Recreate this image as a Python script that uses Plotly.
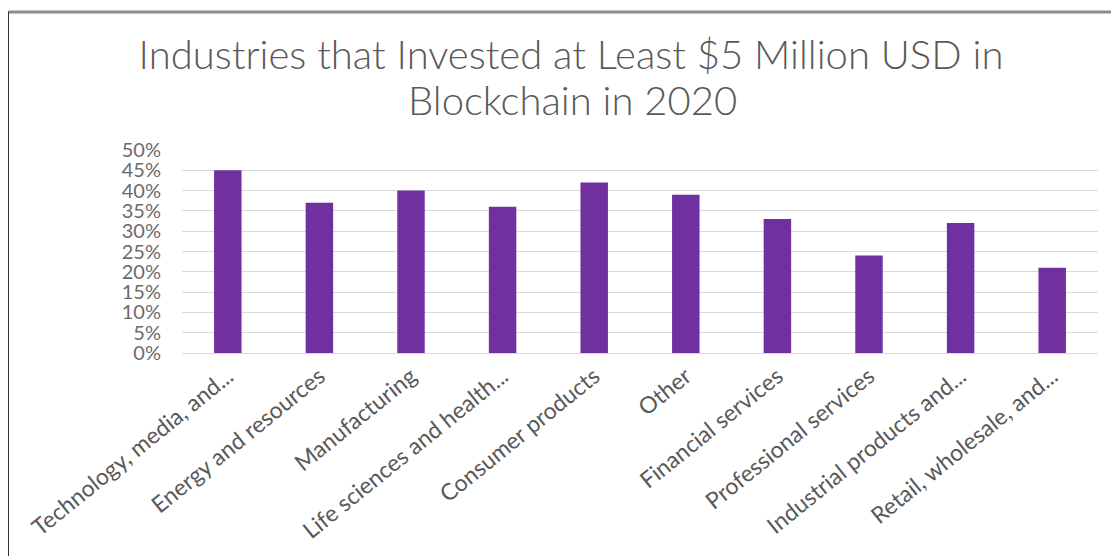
import plotly.graph_objects as go

INDUSTRIES = [
    "Technology, media, and...", "Energy and resources", "Manufacturing",
    "Life sciences and health...", "Consumer products", "Other",
    "Financial services", "Professional services", "Industrial products and...",
    "Retail, wholesale, and...",
]
SHARE = [0.45, 0.37, 0.40, 0.36, 0.42, 0.39, 0.33, 0.24, 0.32, 0.21]
Y_TICKS = [i * 0.05 for i in range(11)]
Y_TICK_LABELS = [f"{i * 5}%" for i in range(11)]
TITLE_LINES = ["Industries that Invested at Least $5 Million USD in",
               "Blockchain in 2020"]

GREY_TEXT = "#595959"
FONT = "Lato, 'Open Sans', sans-serif"

W, H = 1119, 556
# page has an 8px body margin, so figure coords = page coords - 8
L, R, T, B = 174, 29, 142, 211
PW, PH = W - L - R, H - T - B


def px(x):  # figure pixel x -> paper x
    return (x - L) / PW


def py(y):  # figure pixel y (from top) -> paper y
    return (H - B - y) / PH


fig = go.Figure(go.Bar(
    x=INDUSTRIES, y=SHARE, marker_color="#7030A0", marker_line_width=0,
))

fig.update_xaxes(
    type="category", tickangle=-39, showgrid=False, automargin=False,
    showline=True, linecolor="#d9d9d9", linewidth=1,
    ticks="", tickfont=dict(size=23, color=GREY_TEXT, family=FONT),
)
fig.update_yaxes(
    range=[0, 0.5], tickvals=Y_TICKS, ticktext=Y_TICK_LABELS, automargin=False,
    showgrid=True, gridcolor="#d9d9d9", gridwidth=1, zeroline=False,
    tickfont=dict(size=20, color="#6b6b6b", family=FONT), ticks="",
    ticklabelstandoff=20,
)

title_font = dict(size=40, color=GREY_TEXT, family=FONT, weight=300)
fig.update_layout(
    title=dict(
        text=TITLE_LINES[0],
        xref="paper", x=px(563), xanchor="center",
        yref="container", y=1 - 47 / H, yanchor="middle",
        font=title_font,
    ),
    bargap=0.7,
    showlegend=False,
    plot_bgcolor="white", paper_bgcolor="white",
    margin=dict(l=L, r=R, t=T, b=B, autoexpand=False),
    width=W, height=H,
)
# second title line set closer than plotly's own line spacing
fig.add_annotation(
    text=TITLE_LINES[1], xref="paper", yref="paper",
    x=px(564), y=py(92), xanchor="center", yanchor="middle",
    showarrow=False, font=title_font,
)

# frame of the original screenshot: grey top rule, dark left rule
fig.add_shape(type="line", xref="paper", yref="paper",
              x0=px(-10), x1=px(W), y0=py(4), y1=py(4),
              line=dict(color="#8c8c8c", width=3))
fig.add_shape(type="line", xref="paper", yref="paper",
              x0=px(0), x1=px(0), y0=py(4), y1=py(H),
              line=dict(color="#333333", width=2))

fig.write_html("out.html")
